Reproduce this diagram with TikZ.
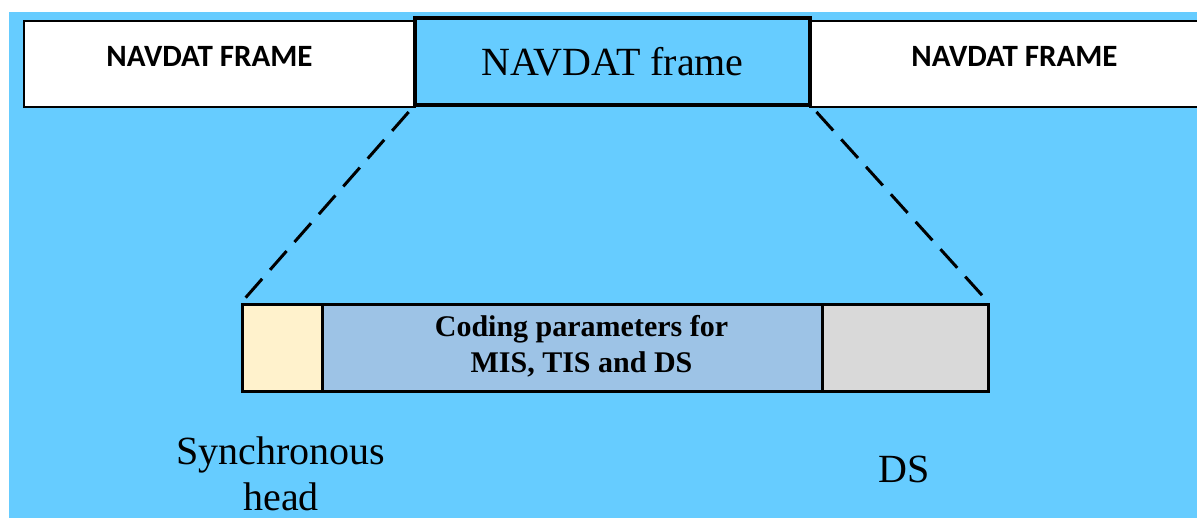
\documentclass[tikz,border=0pt]{standalone}
\usepackage{fontspec}
\setmainfont{Liberation Serif}
\newfontfamily\capsfont{Carlito}
\usepackage{tikz}

\definecolor{skyback}{HTML}{66CCFF}
\definecolor{syncfill}{HTML}{FFF2CC}
\definecolor{codefill}{HTML}{9DC3E6}
\definecolor{dsfill}{HTML}{D9D9D9}

\tikzset{
  outerframe/.style={draw, line width=2.5pt, fill=white, inner sep=0pt,
    minimum height=86pt},
  innerframe/.style={draw, line width=3.5pt, fill=skyback, inner sep=0pt,
    minimum width=395pt, minimum height=87pt},
  part/.style={draw, line width=3pt, inner sep=0pt, minimum height=87pt},
  zoomline/.style={line width=3pt, dash pattern=on 25pt off 12pt,
    shorten <=7pt, shorten >=5pt}
}

\begin{document}
\begin{tikzpicture}[x=1pt,y=-1pt]

% page and blue background
\useasboundingbox (0,0) rectangle (1197,518);
\fill[white] (0,0) rectangle (1197,518);
\fill[skyback] (9,12) rectangle (1197,518);

% the row of frames
\node[outerframe, minimum width=391pt] (leftframe) at (219.5,64) {};
\node[outerframe, minimum width=390pt] (rightframe) at (1005,64) {};
\node[innerframe] (midframe) at (612.5,61.5) {\fontsize{40}{44}\selectfont NAVDAT frame};
\node (leftlabel) at (209.5,56) {\capsfont\bfseries\fontsize{31}{34}\selectfont NAVDAT FRAME};
\node (rightlabel) at (1014.5,56) {\capsfont\bfseries\fontsize{31}{34}\selectfont NAVDAT FRAME};

% the parts of one frame
\node[part, fill=syncfill, minimum width=80pt] (syncpart) at (282,348.5) {};
\node[part, fill=codefill, minimum width=500pt] (codepart) at (572,348.5) {};
\node[part, fill=dsfill, minimum width=166pt] (dspart) at (905,348.5) {};
\node[align=center, font=\bfseries\fontsize{30}{36}\selectfont] (codelabel) at (581.5,346)
  {Coding parameters for\\MIS, TIS and DS};

% zoom lines
\draw[zoomline] (midframe.south west) -- (syncpart.north west);
\draw[zoomline] (midframe.south east) -- (dspart.north east);

% names below
\node[align=center, font=\fontsize{40}{46}\selectfont] (synclabel) at (281,474) {Synchronous\\head};
\node[font=\fontsize{40}{46}\selectfont] (dslabel) at (904,469) {DS};

\end{tikzpicture}
\end{document}
